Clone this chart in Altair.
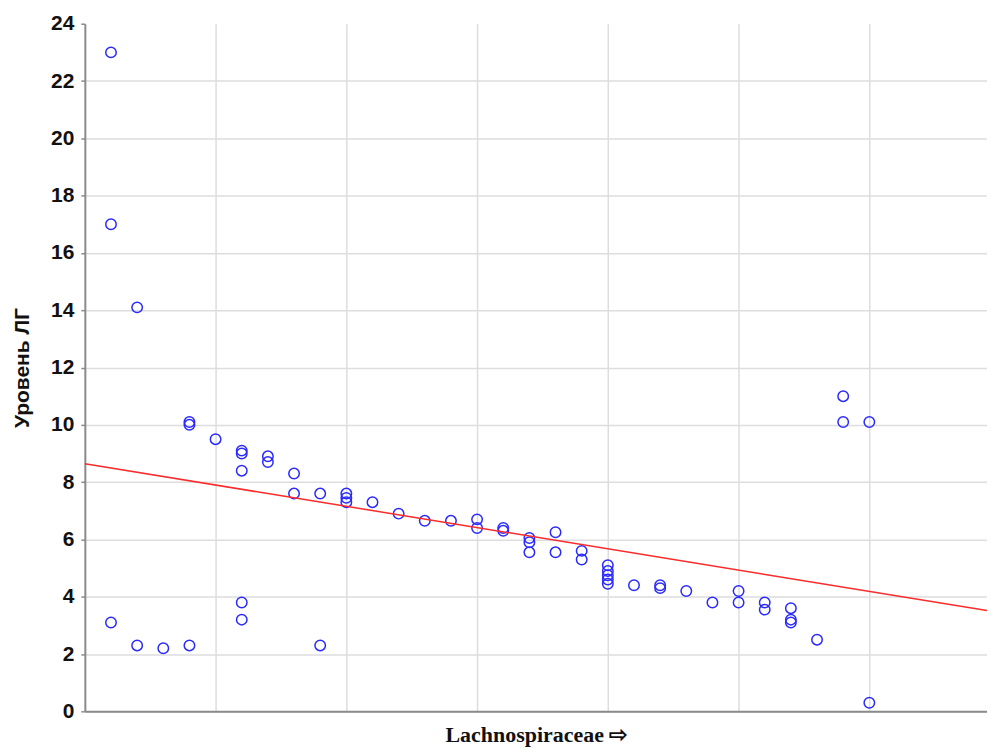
import altair as alt
import pandas as pd

# Scatter data (x in axis units, y = Уровень ЛГ)
x_vals = [0.2, 0.2, 0.2,
          0.4, 0.4,
          0.6,
          0.8, 0.8, 0.8,
          1.0,
          1.2, 1.2, 1.2, 1.2, 1.2,
          1.4, 1.4,
          1.6, 1.6,
          1.8, 1.8,
          2.0, 2.0, 2.0,
          2.2, 2.4, 2.6, 2.8,
          3.0, 3.0,
          3.2, 3.2,
          3.4, 3.4, 3.4,
          3.6, 3.6,
          3.8, 3.8,
          4.0, 4.0, 4.0, 4.0, 4.0,
          4.2,
          4.4, 4.4,
          4.6, 4.8,
          5.0, 5.0,
          5.2, 5.2,
          5.4, 5.4, 5.4,
          5.6,
          5.8, 5.8,
          6.0, 6.0]
y_vals = [23.0, 17.0, 3.1,
          14.1, 2.3,
          2.2,
          10.1, 10.0, 2.3,
          9.5,
          9.1, 9.0, 8.4, 3.8, 3.2,
          8.9, 8.7,
          8.3, 7.6,
          7.6, 2.3,
          7.6, 7.45, 7.3,
          7.3, 6.9, 6.65, 6.65,
          6.7, 6.4,
          6.4, 6.3,
          6.05, 5.9, 5.55,
          6.25, 5.55,
          5.6, 5.3,
          5.1, 4.9, 4.75, 4.6, 4.45,
          4.4,
          4.4, 4.3,
          4.2, 3.8,
          4.2, 3.8,
          3.8, 3.55,
          3.6, 3.2, 3.1,
          2.5,
          11.0, 10.1,
          10.1, 0.3]

# Fitted line endpoints
line_x = [0.0, 6.9]
line_y = [8.64, 3.52]

y_ticks = list(range(0, 25, 2))
x_grid = [1, 2, 3, 4, 5, 6]

pts = pd.DataFrame({"x": x_vals, "y": y_vals})
ln = pd.DataFrame({"x": line_x, "y": line_y})

x_scale = alt.Scale(domain=[0, 6.9], nice=False, zero=False)
y_scale = alt.Scale(domain=[0, 24], nice=False)

x_axis = alt.Axis(values=x_grid, labels=False, ticks=False,
                  domainColor="#8a8a8a", domainWidth=2,
                  grid=True, gridColor="#dddddd", gridWidth=1.5,
                  title="Lachnospiraceae ⇨", titleFont="Liberation Serif",
                  titleFontSize=22, titleFontWeight="bold", titleColor="#111111",
                  titlePadding=13)
y_axis = alt.Axis(values=y_ticks, labelFont="Liberation Sans", labelFontSize=21,
                  labelFontWeight="bold", labelColor="#111111",
                  tickSize=4, tickColor="#8a8a8a", tickWidth=1.5,
                  domainColor="#8a8a8a", domainWidth=2, labelPadding=7,
                  grid=True, gridColor="#dddddd", gridWidth=1.5,
                  gridOpacity={"condition": {"test": "datum.value >= 24", "value": 0}, "value": 1},
                  title="Уровень ЛГ", titleFont="Liberation Sans", titleFontSize=21,
                  titleFontWeight="bold", titleColor="#111111", titlePadding=18)

points = alt.Chart(pts).mark_point(shape="circle", filled=False, size=110,
                                   color="#2a2aff", strokeWidth=1.5, opacity=1).encode(
    x=alt.X("x:Q", scale=x_scale, axis=x_axis),
    y=alt.Y("y:Q", scale=y_scale, axis=y_axis),
)

line = alt.Chart(ln).mark_line(color="#ff2a2a", strokeWidth=1.5).encode(
    x=alt.X("x:Q", scale=x_scale),
    y=alt.Y("y:Q", scale=y_scale),
)

chart = alt.layer(points, line).properties(
    width=904, height=689,
    autosize=alt.AutoSizeParams(type="none"),
    padding={"left": 77, "top": 15, "right": 0, "bottom": 41},
).configure_view(strokeWidth=0)

chart.save("out.html", embed_options={"renderer": "svg", "actions": False})
